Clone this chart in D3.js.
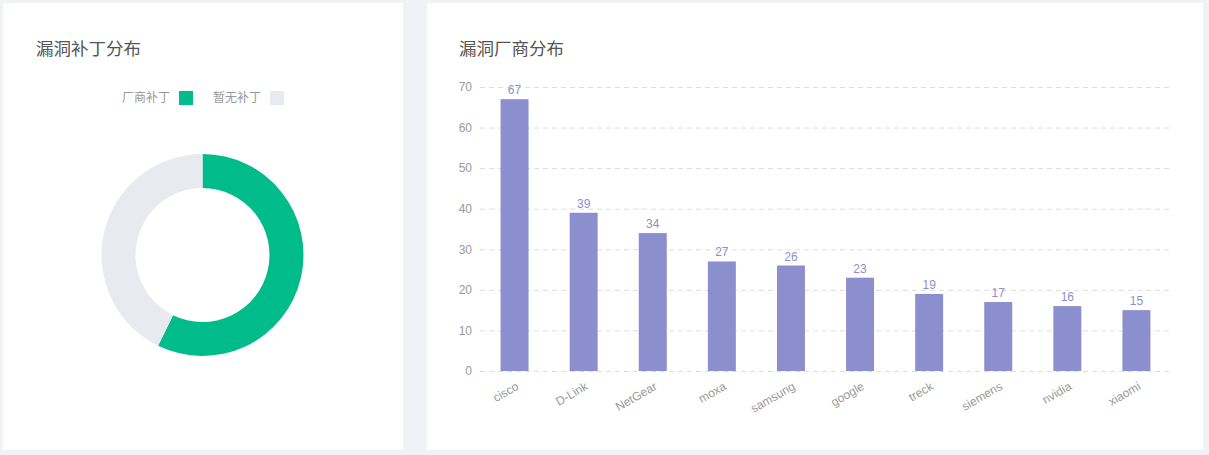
<!DOCTYPE html>
<html>
<head>
<meta charset="utf-8">
<script src="https://cdn.jsdelivr.net/npm/d3@7"></script>
<style>
  body { margin: 0; background: #f0f2f5; font-family: "Noto Sans CJK SC", "Helvetica Neue", Arial, sans-serif; }
  svg { display: block; }
</style>
</head>
<body>
<svg id="chart" width="1209" height="455"></svg>
<script>
// donut data
var patchLabels = ["厂商补丁", "暂无补丁"],
    patchValues = [162, 121],
    patchColors = ["#00bc8a", "#e9eaf0"];

// bar data
var vendors = ["cisco", "D-Link", "NetGear", "moxa", "samsung", "google", "treck", "siemens", "nvidia", "xiaomi"],
    vendorCounts = [67, 39, 34, 27, 26, 23, 19, 17, 16, 15],
    yTicks = [0, 10, 20, 30, 40, 50, 60, 70];

var svg = d3.select("#chart");

// panels
svg.append("rect").attr("x", 3).attr("y", 3).attr("width", 400).attr("height", 447).attr("fill", "#fff");
svg.append("rect").attr("x", 427).attr("y", 3).attr("width", 776).attr("height", 447).attr("fill", "#fff");

// titles
svg.append("text").attr("x", 36).attr("y", 55).attr("font-size", 17.5).attr("fill", "#555").text("漏洞补丁分布");
svg.append("text").attr("x", 459).attr("y", 55).attr("font-size", 17.5).attr("fill", "#555").text("漏洞厂商分布");

// ---- donut ----
var legend = svg.append("g");
var legendPos = [179, 270];
patchLabels.forEach(function(l, i) {
  legend.append("rect")
      .attr("x", legendPos[i]).attr("y", 91)
      .attr("width", 14).attr("height", 14)
      .attr("fill", patchColors[i]);
  legend.append("text")
      .attr("x", legendPos[i] - 9).attr("y", 98)
      .attr("dy", "0.35em")
      .attr("text-anchor", "end")
      .attr("font-size", 12)
      .attr("fill", "#999")
      .text(l);
});

var pie = d3.pie().sort(null).value(function(d) { return d; });
var arc = d3.arc().innerRadius(67).outerRadius(101);

var donut = svg.append("g").attr("transform", "translate(202.5,255)");
donut.selectAll("path")
    .data(pie(patchValues))
  .enter().append("path")
    .attr("fill", function(d, i) { return patchColors[i]; })
    .attr("d", arc);

// ---- bars ----
var margin = {left: 480, right: 1171, top: 87, bottom: 371};

var x = d3.scaleBand()
    .domain(vendors)
    .range([margin.left, margin.right])
    .paddingInner(0.595)
    .paddingOuter(0.2975);

var y = d3.scaleLinear()
    .domain([0, 70])
    .range([margin.bottom, margin.top]);

var g = svg.append("g");

// grid
g.selectAll(".grid")
    .data(yTicks)
  .enter().append("line")
    .attr("x1", margin.left).attr("x2", margin.right)
    .attr("y1", function(d) { return y(d) + 0.5; })
    .attr("y2", function(d) { return y(d) + 0.5; })
    .attr("stroke", "#ddd")
    .attr("stroke-dasharray", "5,4");

// y axis
var yAxis = g.append("g")
    .attr("transform", "translate(" + margin.left + ",0)")
    .call(d3.axisLeft(y).tickValues(yTicks).tickSize(0).tickPadding(8));
yAxis.select(".domain").remove();
yAxis.selectAll("text").attr("fill", "#999").attr("font-size", 12)
    .attr("font-family", "Helvetica Neue, Arial, sans-serif");

// x axis
var xAxis = g.append("g")
    .attr("transform", "translate(0," + margin.bottom + ")")
    .call(d3.axisBottom(x).tickSize(0).tickPadding(0));
xAxis.select(".domain").remove();
xAxis.selectAll("text")
    .attr("fill", "#999")
    .attr("font-size", 12)
    .attr("font-family", "Helvetica Neue, Arial, sans-serif")
    .attr("text-anchor", "end")
    .attr("y", 0)
    .attr("dy", "0.35em")
    .attr("transform", "translate(" + (x.bandwidth() / 2 - 11) + ",14) rotate(-30)");

g.selectAll(".bar")
    .data(vendorCounts)
  .enter().append("rect")
    .attr("x", function(d, i) { return x(vendors[i]); })
    .attr("y", function(d) { return y(d); })
    .attr("width", x.bandwidth())
    .attr("height", function(d) { return y(0) - y(d); })
    .attr("fill", "#8b8fcd");

g.selectAll(".val")
    .data(vendorCounts)
  .enter().append("text")
    .attr("x", function(d, i) { return x(vendors[i]) + x.bandwidth() / 2; })
    .attr("y", function(d) { return y(d) - 5; })
    .attr("text-anchor", "middle")
    .attr("font-size", 12)
    .attr("font-family", "Helvetica Neue, Arial, sans-serif")
    .attr("fill", "#8b8fcd")
    .text(function(d) { return d; });
</script>
</body>
</html>
